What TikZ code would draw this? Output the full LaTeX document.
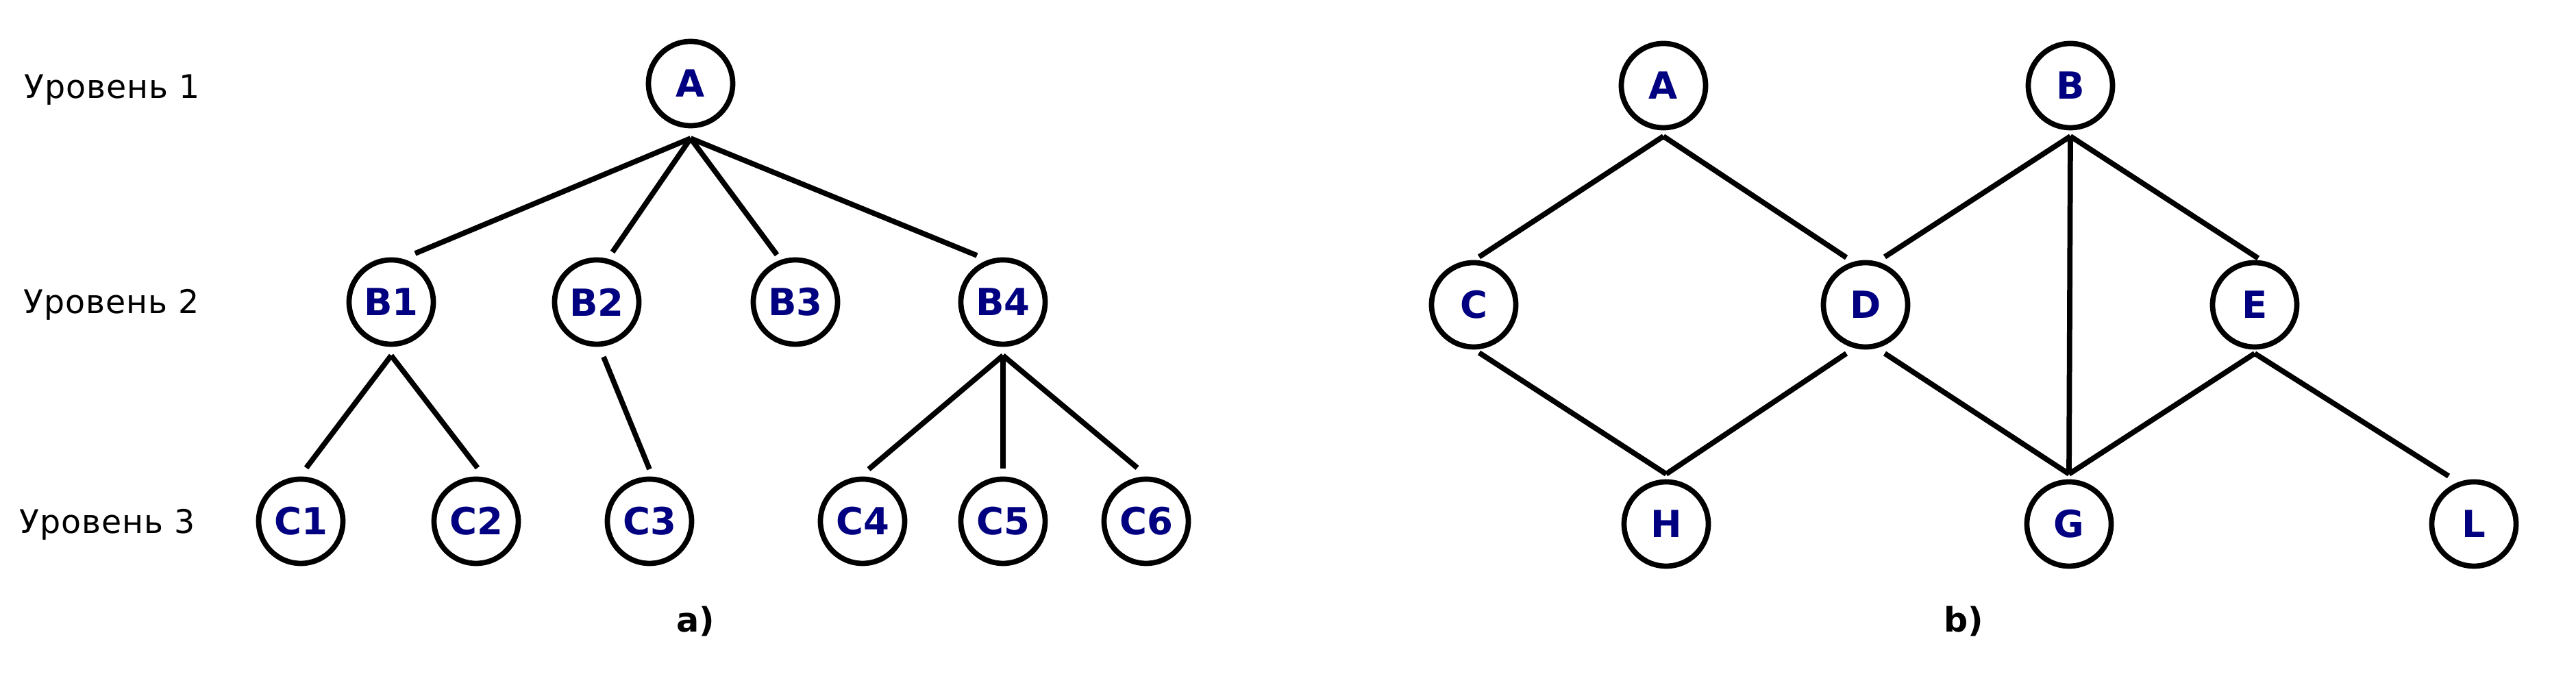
\documentclass[tikz,border=0pt]{standalone}
\usepackage{fontspec}
\setmainfont{DejaVu Sans}
\definecolor{navy}{RGB}{0,0,128}

\begin{document}
\begin{tikzpicture}[line width=2.2pt]
  \useasboundingbox (0,0) rectangle (37.6,10);

        % level labels and captions
        \begin{scope}[every node/.style={inner sep=0pt,font=\fontsize{13.5}{16}\selectfont\addfontfeatures{LetterSpace=2}}]
          \node[anchor=base west] (lev1) at (0.32,8.56) {Уровень 1};
          \node[anchor=base west] (lev2) at (0.31,5.42) {Уровень 2};
          \node[anchor=base west] (lev3) at (0.25,2.21) {Уровень 3};
          \node[anchor=base,font=\fontsize{14}{16}\selectfont\bfseries] (capa) at (10.15,0.77) {a)};
          \node[anchor=base,font=\fontsize{14}{16}\selectfont\bfseries] (capb) at (28.66,0.77) {b)};
        \end{scope}

        \begin{scope}[every node/.style={circle,draw,line width=2.2pt,minimum size=1.23cm,inner sep=0pt,text=navy,font=\fontsize{15.5}{18}\selectfont\bfseries}]
          % a) tree
          \node (A)  at (10.08,8.78) {A};
          \node (B1) at (5.71,5.59)  {B1};
          \node (B2) at (8.71,5.59)  {B2};
          \node (B3) at (11.61,5.59) {B3};
          \node (B4) at (14.64,5.59) {B4};
          \node (C1) at (4.39,2.39)  {C1};
          \node (C2) at (6.95,2.39)  {C2};
          \node (C3) at (9.48,2.39)  {C3};
          \node (C4) at (12.59,2.39) {C4};
          \node (C5) at (14.64,2.39) {C5};
          \node (C6) at (16.73,2.39) {C6};
          % b) graph
          \node (a) at (24.28,8.75) {A};
          \node (b) at (30.22,8.75) {B};
          \node (c) at (21.51,5.55) {C};
          \node (d) at (27.23,5.55) {D};
          \node (e) at (32.91,5.55) {E};
          \node (h) at (24.32,2.35) {H};
          \node (g) at (30.20,2.35) {G};
          \node (l) at (36.11,2.35) {L};
        \end{scope}

        \begin{scope}[every edge/.style={draw}]
          % a) tree
          \path ([yshift=-8mm]A.center) edge ([shift={(3.5mm,7.1mm)}]B1.center)
                                        edge ([shift={(2.3mm,7.3mm)}]B2.center)
                                        edge ([shift={(-2.7mm,6.9mm)}]B3.center)
                                        edge ([shift={(-3.8mm,6.8mm)}]B4.center);
          \path ([yshift=-7.8mm]B1.center) edge ([shift={(0.8mm,7.8mm)}]C1.center)
                                           edge ([shift={(0.2mm,7.8mm)}]C2.center);
          \path ([shift={(1mm,-8mm)}]B2.center) edge ([yshift=7.6mm]C3.center);
          \path ([yshift=-7.8mm]B4.center) edge ([shift={(0.9mm,7.6mm)}]C4.center)
                                           edge ([yshift=7.7mm]C5.center)
                                           edge ([shift={(-1.3mm,7.8mm)}]C6.center);
          % b) graph
          \path ([yshift=-7.4mm]a.center) edge ([shift={(0.8mm,7mm)}]c.center)
                                          edge ([shift={(-2.8mm,6.9mm)}]d.center);
          \path ([yshift=-7.4mm]b.center) edge ([shift={(2.8mm,7mm)}]d.center)
                                          edge ([yshift=7.3mm]g.center)
                                          edge ([shift={(0.5mm,6.8mm)}]e.center);
          \path ([shift={(0.8mm,-7mm)}]c.center) edge ([yshift=7.3mm]h.center);
          \path ([shift={(-2.8mm,-7.1mm)}]d.center) edge ([yshift=7.3mm]h.center);
          \path ([shift={(2.8mm,-7.1mm)}]d.center) edge ([yshift=7.3mm]g.center);
          \path ([yshift=-7.1mm]e.center) edge ([yshift=7.3mm]g.center)
                                          edge ([shift={(-3.7mm,7mm)}]l.center);
        \end{scope}

      \end{tikzpicture}
\end{document}
